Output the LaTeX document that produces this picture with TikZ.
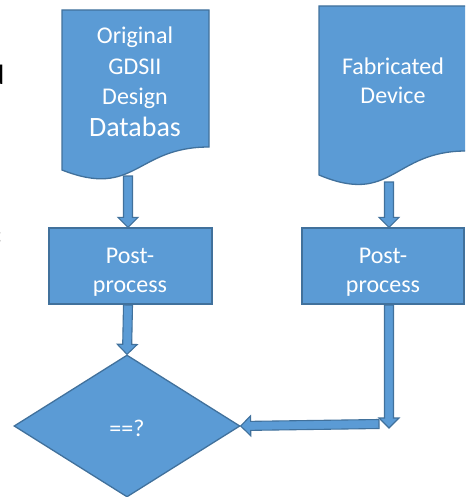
\documentclass[tikz,border=0pt]{standalone}
\usepackage{fontspec}
\setmainfont{Carlito}
\usetikzlibrary{shapes.geometric,calc}
\definecolor{boxfill}{RGB}{91,155,213}
\definecolor{boxline}{RGB}{65,113,156}
% block arrow from #1 to #2 (shaft 9, head 20 wide, 10 long)
\newcommand\blockarrow[2]{%
  \draw[arrowbody] let \p1=(#1), \p2=(#2),
      \n1={veclen(\x2-\x1,\y2-\y1)}, \n2={atan2(\y2-\y1,\x2-\x1)} in
    [shift={(\p1)}, rotate=\n2]
    (0,-4.5) -- ({\n1-10},-4.5) -- ({\n1-10},-10) -- ({\n1},0)
    -- ({\n1-10},10) -- ({\n1-10},4.5) -- (0,4.5) -- cycle;}
\begin{document}
\begin{tikzpicture}[x=1pt,y=-1pt,
  shapebox/.style={draw=boxline, fill=boxfill, line width=1.3pt},
  arrowbody/.style={draw=boxline, fill=boxfill, line width=1.1pt, line join=miter},
  lbl/.style={text=white, font=\fontsize{24}{29}\selectfont, inner sep=0pt, anchor=base}]
\useasboundingbox (0,0) rectangle (465,497);
\clip (0,0) rectangle (465,497);
% text fragments cut by the left edge
\node[inner sep=0pt, anchor=base west, font=\fontsize{28}{32}\selectfont] (frag1) at (-10.5,85) {d};
\node[inner sep=0pt, anchor=base east, text=gray, font=\fontsize{24}{28}\selectfont] (frag2) at (2.5,242) {:};
% connector end points
\coordinate (s1) at (128,176);
\coordinate (s2) at (389,182);
\coordinate (s3) at (128,305);
\coordinate (s4) at (389,305);
\coordinate (e4) at (389,428);
\coordinate (s5) at (379,424);
% boxes and diamond (nodes)
\node[shapebox, rectangle, minimum width=163pt, minimum height=76pt, inner sep=0pt] (pp1) at (130.5,266) {};
\node[shapebox, rectangle, minimum width=162pt, minimum height=76pt, inner sep=0pt] (pp2) at (383,266) {};
\node[shapebox, diamond, minimum width=226pt, minimum height=142pt, inner sep=0pt] (cmp) at (127,426) {};
% block arrows
\blockarrow{s1}{pp1.north -| s1}
\blockarrow{s2}{pp2.north -| s2}
\blockarrow{s3}{cmp.north}
\blockarrow{s4}{e4}
\blockarrow{s5}{cmp.east}
% document shapes
\draw[shapebox] (62,10) -- (209,10) -- (209,147)
  .. controls (135.5,147) and (135.5,199) .. (62,170) -- cycle;
\draw[shapebox] (319,6) -- (466,6) -- (466,151)
  .. controls (392.5,151) and (392.5,206) .. (319,175) -- cycle;
% texts
\node[lbl] (t1) at (135,44) {Original};
\node[lbl] (t2) at (135,75) {GDSII};
\node[lbl] (t3) at (135,105) {Design};
\node[lbl, font=\fontsize{28}{32}\selectfont] (t4) at (135,137) {Databas};
\node[lbl] (t5) at (393,75) {Fabricated};
\node[lbl] (t6) at (393,104) {Device};
\node[lbl] (t7) at (130,263) {Post-};
\node[lbl] (t8) at (130,292) {process};
\node[lbl] (t9) at (383,263) {Post-};
\node[lbl] (t10) at (383,292) {process};
\node[lbl] (t11) at (127,436) {==?};
\end{tikzpicture}
\end{document}
